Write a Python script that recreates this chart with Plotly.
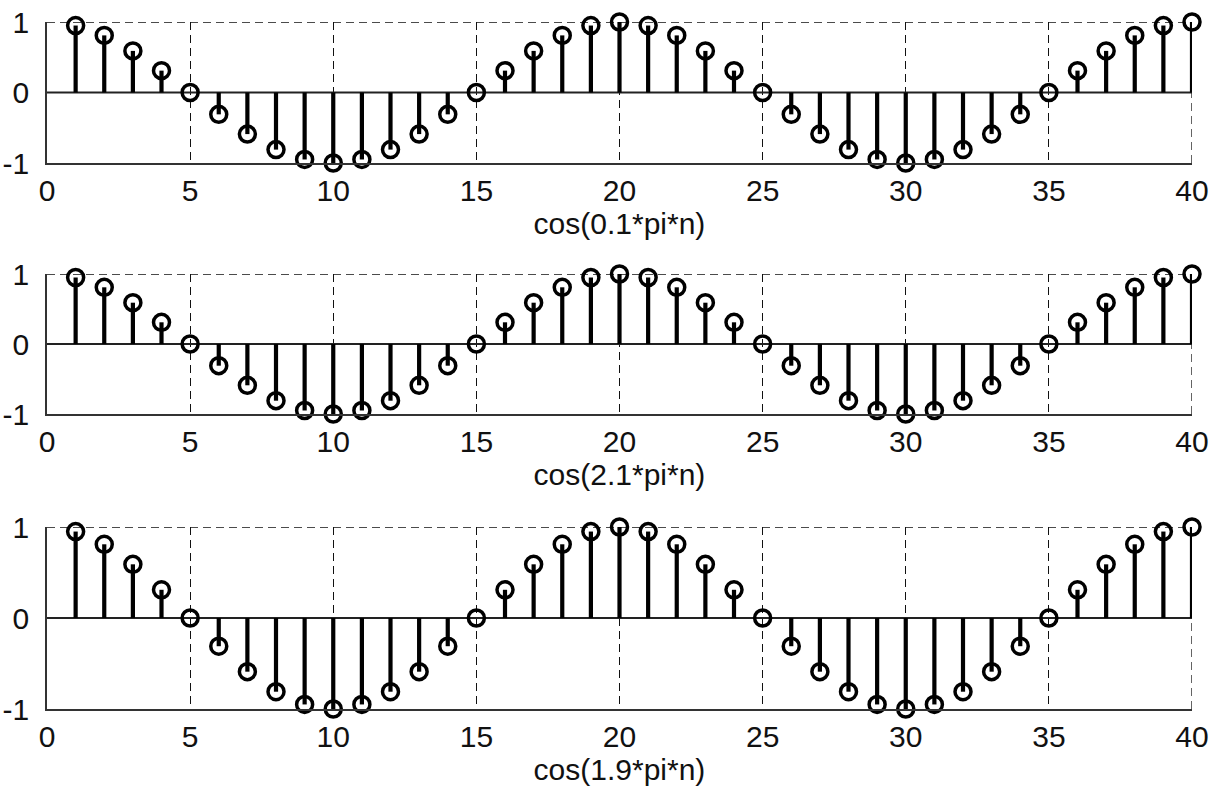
import plotly.graph_objects as go

n = list(range(1, 41))
y1 = [0.95, 0.81, 0.59, 0.31, 0.0, -0.31, -0.59, -0.81, -0.95, -1.0,
      -0.95, -0.81, -0.59, -0.31, 0.0, 0.31, 0.59, 0.81, 0.95, 1.0,
      0.95, 0.81, 0.59, 0.31, 0.0, -0.31, -0.59, -0.81, -0.95, -1.0,
      -0.95, -0.81, -0.59, -0.31, 0.0, 0.31, 0.59, 0.81, 0.95, 1.0]
y2 = [0.95, 0.81, 0.59, 0.31, 0.0, -0.31, -0.59, -0.81, -0.95, -1.0,
      -0.95, -0.81, -0.59, -0.31, 0.0, 0.31, 0.59, 0.81, 0.95, 1.0,
      0.95, 0.81, 0.59, 0.31, 0.0, -0.31, -0.59, -0.81, -0.95, -1.0,
      -0.95, -0.81, -0.59, -0.31, 0.0, 0.31, 0.59, 0.81, 0.95, 1.0]
y3 = [0.95, 0.81, 0.59, 0.31, 0.0, -0.31, -0.59, -0.81, -0.95, -1.0,
      -0.95, -0.81, -0.59, -0.31, 0.0, 0.31, 0.59, 0.81, 0.95, 1.0,
      0.95, 0.81, 0.59, 0.31, 0.0, -0.31, -0.59, -0.81, -0.95, -1.0,
      -0.95, -0.81, -0.59, -0.31, 0.0, 0.31, 0.59, 0.81, 0.95, 1.0]
series = [y1, y2, y3]
labels = ["cos(0.1*pi*n)", "cos(2.1*pi*n)", "cos(1.9*pi*n)"]
x_ticks = [0, 5, 10, 15, 20, 25, 30, 35, 40]
y_ticks = [-1, 0, 1]
y_ticktext = ["-1", "0", "1"]

W, H = 1217, 792
x_dom = [47 / W, 1192 / W]
panels_px = [(22, 163), (274, 414), (527, 709)]

fig = go.Figure()
font = dict(family="Liberation Sans, Arial, sans-serif", size=30, color="#111")
DASH = "8px,5px"

for i, (ys, lab, (top, bot)) in enumerate(zip(series, labels, panels_px)):
    k = "" if i == 0 else str(i + 1)
    xa, ya = "x" + k, "y" + k
    sx, sy = [], []
    for xv, yv in zip(n, ys):
        sx += [xv, xv, None]
        sy += [0, yv, None]
    # baseline
    fig.add_trace(go.Scatter(x=[0, 40], y=[0, 0], mode="lines",
                             line=dict(color="#222", width=1.8),
                             xaxis=xa, yaxis=ya, showlegend=False, hoverinfo="skip"))
    fig.add_trace(go.Scatter(x=sx, y=sy, mode="lines",
                             line=dict(color="black", width=4.2),
                             xaxis=xa, yaxis=ya, showlegend=False, hoverinfo="skip"))
    fig.add_trace(go.Scatter(x=n, y=ys, mode="markers",
                             marker=dict(symbol="circle-open", size=16, color="black",
                                         line=dict(width=3.5, color="black")),
                             cliponaxis=False,
                             xaxis=xa, yaxis=ya, showlegend=False))
    dom_y = [1 - bot / H, 1 - top / H]
    fig.layout["xaxis" + k] = dict(
        domain=x_dom, range=[0, 40], tickvals=x_ticks, ticks="",
        showgrid=True, gridcolor="#111", griddash=DASH, gridwidth=1.3,
        showline=True, linecolor="#333", linewidth=1.8, zeroline=False,
        tickfont=font, anchor=ya, automargin=False, ticklabelstandoff=0,
        title=dict(text=lab, font=font, standoff=2))
    fig.layout["yaxis" + k] = dict(
        domain=dom_y, range=[-1, 1], tickvals=y_ticks, ticktext=y_ticktext, ticks="",
        showgrid=False,
        showline=True, linecolor="#333", linewidth=1.8, zeroline=False,
        tickfont=font, anchor=xa, ticklabelstandoff=10, automargin=False)
    # dashed top border (y=1 grid) and right border (x=40 grid)
    fig.add_shape(type="line", xref=xa + " domain", yref=ya, x0=0, x1=1, y0=1, y1=1,
                  line=dict(color="#111", width=1.3, dash=DASH), layer="below")
    fig.add_shape(type="line", xref=xa, yref=ya + " domain", x0=40, x1=40, y0=0, y1=1,
                  line=dict(color="#111", width=1.3, dash=DASH), layer="below")

fig.update_layout(width=W, height=H, margin=dict(l=0, r=0, t=0, b=0),
                  plot_bgcolor="white", paper_bgcolor="white")
fig.write_html("out.html")
